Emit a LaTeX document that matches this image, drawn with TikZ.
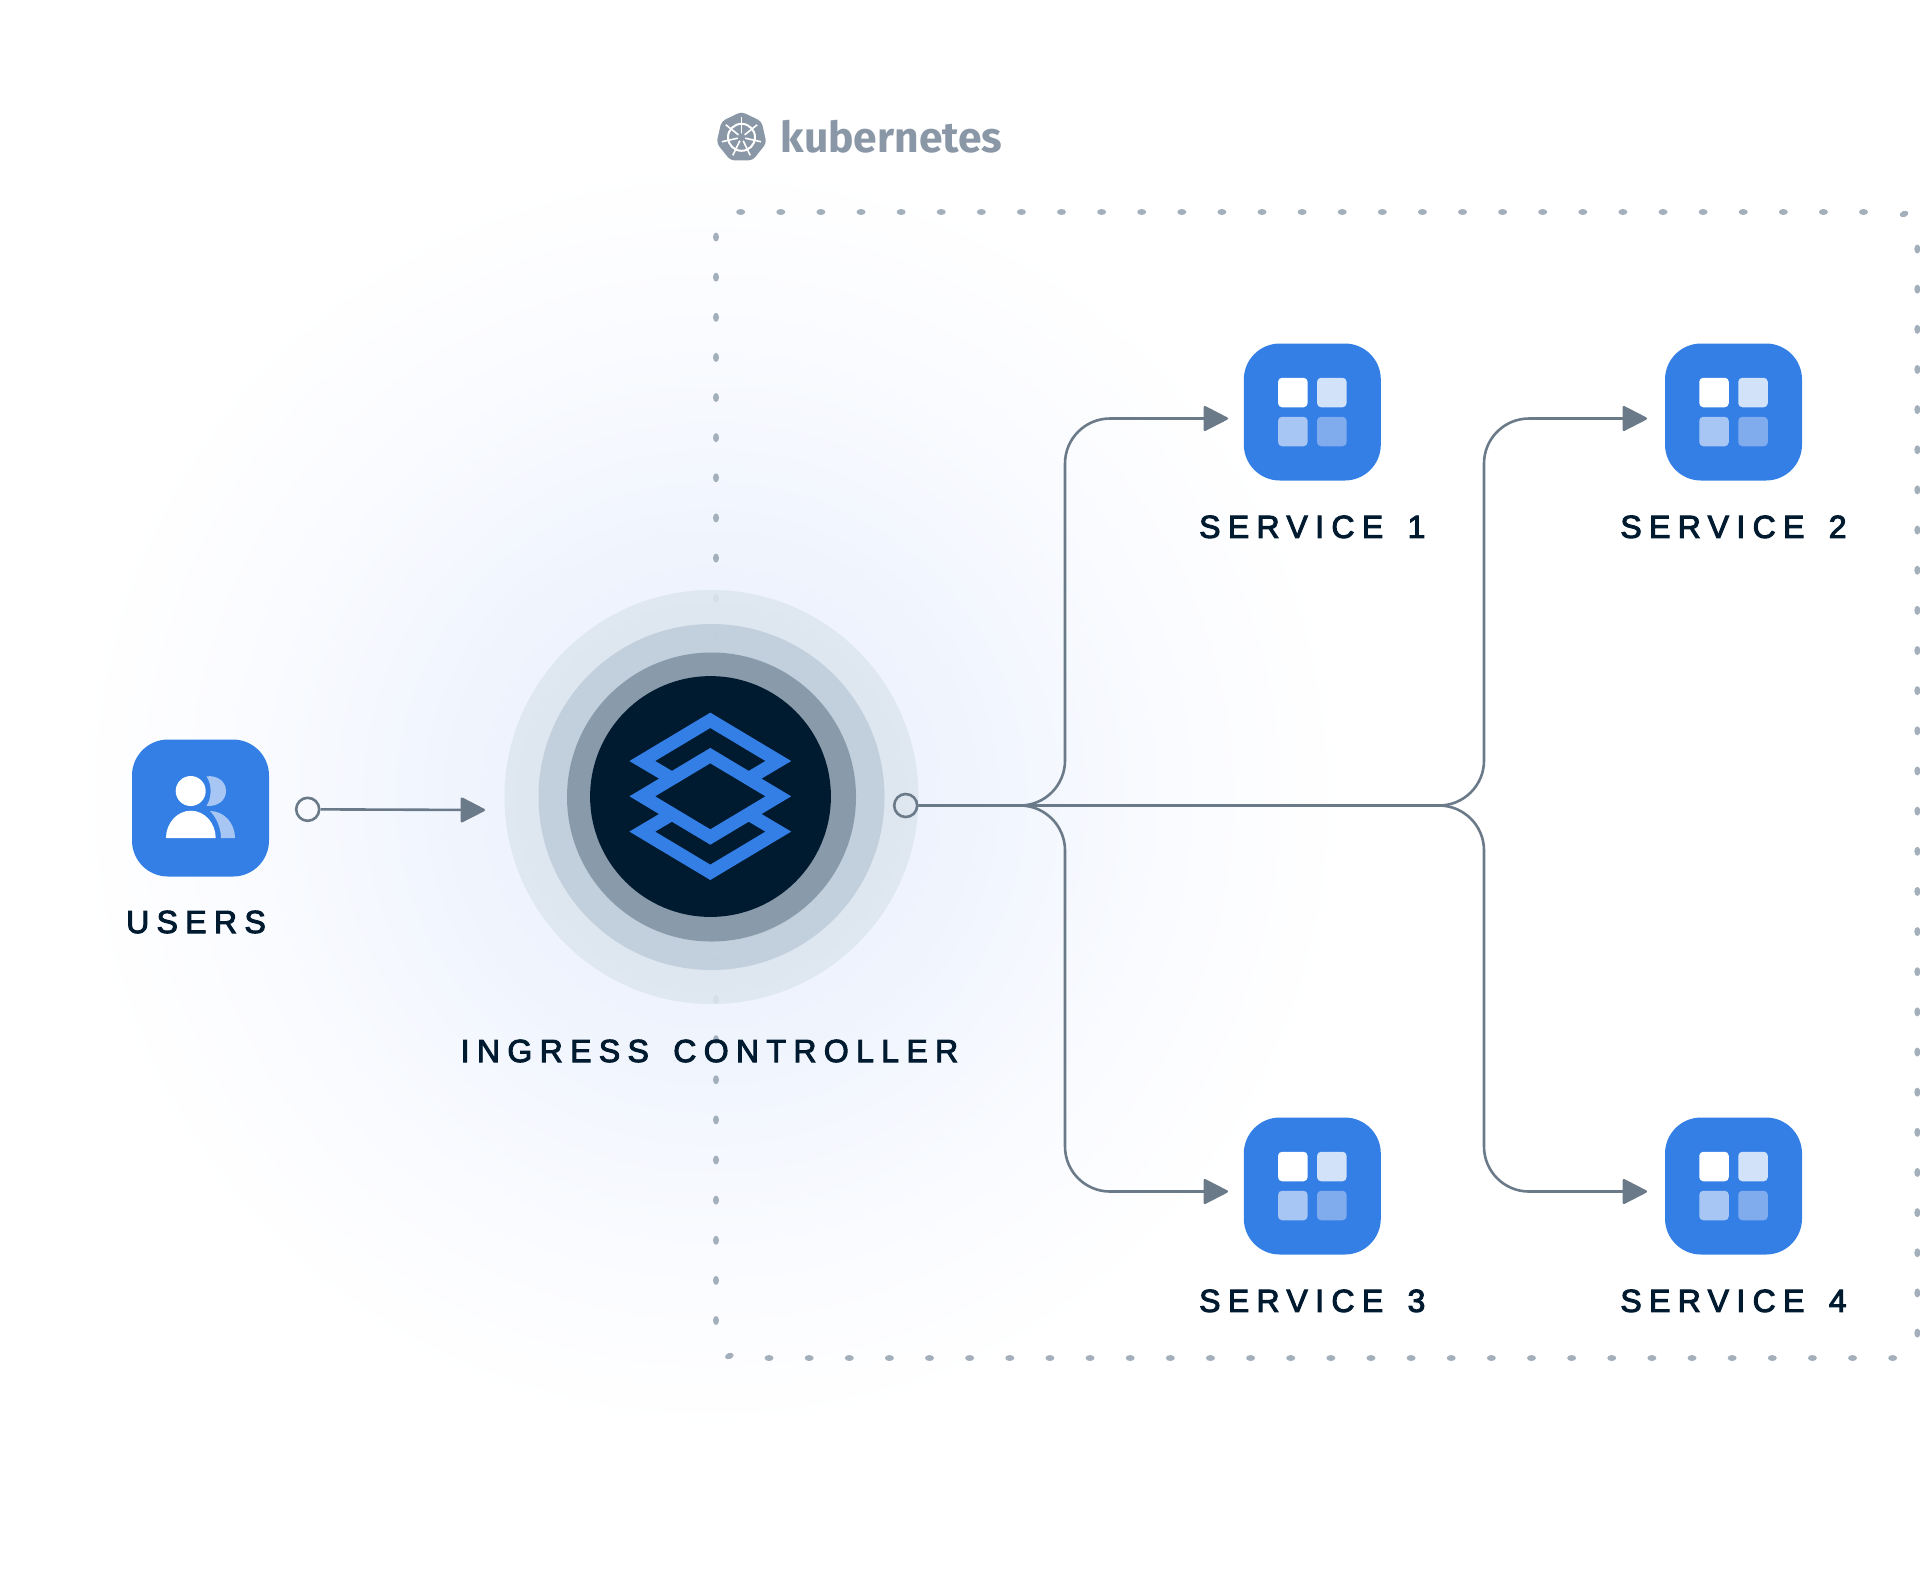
\documentclass[tikz,border=0pt]{standalone}
\usepackage{fontspec}
\usetikzlibrary{arrows.meta,positioning,shapes.geometric}
\definecolor{boxblue}{HTML}{347FE6}
\definecolor{nightblue}{HTML}{001A30}
\definecolor{wiregray}{HTML}{6B7A89}
\definecolor{dotgray}{HTML}{A3AFBB}
\definecolor{logogray}{HTML}{8A97A6}
\definecolor{ringa}{HTML}{DDE6EF}
\definecolor{ringb}{HTML}{BFCCDA}
\definecolor{ringc}{HTML}{8294A4}
\definecolor{glowa}{HTML}{E9F0FC}
\definecolor{glowb}{HTML}{EEF3FD}
\definecolor{glowc}{HTML}{F5F8FE}
\definecolor{glowd}{HTML}{FBFCFF}
\definecolor{tilea}{HTML}{D2E2F9}
\definecolor{tileb}{HTML}{A8C6F3}
\definecolor{tilec}{HTML}{80ACEE}
\newfontfamily\labelfont[LetterSpace=23,WordSpace=1.5,FakeBold=3]{Liberation Sans}
\newfontfamily\logofont{Fira Sans}
\pgfdeclareradialshading{glow}{\pgfpoint{0bp}{0bp}}{color(0bp)=(glowa); color(8.5bp)=(glowb); color(14bp)=(glowc); color(19.5bp)=(glowd); color(25bp)=(white); color(50bp)=(white)}

\begin{document}
\begin{tikzpicture}[x=0.5pt, y=-0.5pt, >={Triangle[length=13pt,width=13pt,round]}]
\tikzstyle{iconbox}=[fill=boxblue,rounded corners=18pt,minimum size=68.5pt,inner sep=0pt]
\tikzstyle{tile}=[rounded corners=2pt,minimum size=14.75pt,inner sep=0pt]
\tikzstyle{caption}=[text=nightblue,inner sep=0pt,text height=11.5pt,text depth=0pt,font=\labelfont\fontsize{16}{16}\selectfont]
\tikzstyle{ring}=[circle,inner sep=0pt,opacity=0.88]
\tikzstyle{port}=[circle,draw=wiregray,line width=1.3pt,minimum size=11.5pt,inner sep=0pt]
\tikzstyle{wire}=[draw=wiregray,line width=1.3pt,rounded corners=22.5pt]
\tikzstyle{stack}=[draw=boxblue,line width=6.6pt,line join=miter]
\tikzstyle{spoke}=[draw=white,line width=0.8pt,shorten >=3pt]
\useasboundingbox (0,0) rectangle (1920,1576);
\shade[shading=glow] (711,797) circle[radius=640];

\foreach \y in {237,277.13,...,1322} \fill[dotgray] (716,\y) ellipse[x radius=3,y radius=4.5];
\foreach \x in {740.7,780.8,...,1866} \fill[dotgray] (\x,212) ellipse[x radius=4.5,y radius=3];
\foreach \y in {249,289.15,...,1335} \fill[dotgray] (1917.3,\y) ellipse[x radius=3,y radius=4.5];
\foreach \x in {769,809.13,...,1894} \fill[dotgray] (\x,1358) ellipse[x radius=4.5,y radius=3];
\fill[dotgray,rotate around={20:(1904,214)}] (1904,214) ellipse[x radius=4.5,y radius=3];
\fill[dotgray,rotate around={20:(729.3,1356)}] (729.3,1356) ellipse[x radius=4.5,y radius=3];

\node[regular polygon,regular polygon sides=7,fill=logogray,rounded corners=2pt,minimum size=25.6pt,inner sep=0pt] (kube) at (741.5,137.3) {};
\foreach \k in {1,...,7} \draw[spoke] (kube.center) -- (kube.corner \k);
\node[circle,draw=white,line width=1pt,minimum size=13.5pt,inner sep=0pt] (wheel) at (kube.center) {};
\node[circle,fill=logogray,minimum size=4pt,inner sep=0pt] (hub) at (kube.center) {};
\node[anchor=base west,inner sep=0pt,text=logogray,font=\logofont\bfseries\fontsize{21.3}{21.3}\selectfont] (kubename) at (780.5,152.5) {kubernetes};

\node[ring,fill=ringa,minimum size=207pt] (ringA) at (711.5,797) {};
\node[ring,fill=ringb,minimum size=173pt] (ringB) at (711.5,797) {};
\node[ring,fill=ringc,minimum size=144.5pt] (ringC) at (711.5,797) {};
\node[circle,fill=nightblue,minimum size=120.4pt,inner sep=0pt] (ingress) at (710.5,796.5) {};
\draw[stack] (672,778.6) -- (642.3,761) -- (710.3,720.3) -- (778.3,761) -- (748.6,778.6);
\draw[stack] (672,814) -- (642.3,831.6) -- (710.3,872.3) -- (778.3,831.6) -- (748.6,814);
\draw[stack] (642.3,796.3) -- (710.3,755.6) -- (778.3,796.3) -- (710.3,837) -- cycle;
\node[caption] (ingresslabel) at (709.5,1050.5) {INGRESS CONTROLLER};

\node[iconbox] (users) at (200.5,808) {};
\node[caption] (userslabel) at (196,921.5) {USERS};
\fill[white] (190.7,791) circle[radius=15];
\fill[white] (166,838) arc[start angle=180,end angle=360,x radius=24.85,y radius=27.3] -- cycle;
\fill[tileb] (206.5,776.3) .. controls (218,775) and (226,782) .. (226,791) .. controls (226,800) and (218,807) .. (206.5,805.8) .. controls (212,798) and (212,784) .. (206.5,776.3);
\fill[tileb] (210,811) .. controls (224,811) and (235,823) .. (235,838) -- (221,838) .. controls (221,829) and (217,818) .. (210,811);

\node[iconbox] (svcA) at (1312.3,412) {};
\node[iconbox] (svcB) [right of=svcA,node distance=210.6pt] {};
\node[iconbox] (svcC) [below of=svcA,node distance=387pt] {};
\node[iconbox] (svcD) [below of=svcB,node distance=387pt] {};
\foreach \s in {svcA,svcB,svcC,svcD} {
  \node[tile,fill=white] (\s-a) at ([xshift=-9.75pt,yshift=9.75pt]\s.center) {};
  \node[tile,fill=tilea] (\s-b) at ([xshift=9.75pt,yshift=9.75pt]\s.center) {};
  \node[tile,fill=tileb] (\s-c) at ([xshift=-9.75pt,yshift=-9.75pt]\s.center) {};
  \node[tile,fill=tilec] (\s-d) at ([xshift=9.75pt,yshift=-9.75pt]\s.center) {};
}
\node[caption] (svcAlabel) [below of=svcA,node distance=57.2pt] {SERVICE 1};
\node[caption] (svcBlabel) [below of=svcB,node distance=57.2pt] {SERVICE 2};
\node[caption] (svcClabel) [below of=svcC,node distance=57.2pt] {SERVICE 3};
\node[caption] (svcDlabel) [below of=svcD,node distance=57.2pt] {SERVICE 4};

\node[port] (inport) at (307.7,809.3) {};
\node[port] (outport) at (905.7,805.5) {};
\coordinate (inend) at (485,810);
\coordinate (busA) at (1065,805.5);
\coordinate (busB) at (1484,805.5);
\coordinate (tipA) at (1228,418.5);
\coordinate (tipB) at (1647,418.5);
\coordinate (tipC) at (1228,1191.5);
\coordinate (tipD) at (1647,1191.5);
\draw[wire,->] (inport) -- (inend);
\draw[wire,->] (outport) -- (busA) |- (tipA);
\draw[wire,->] (outport) -- (busA) |- (tipC);
\draw[wire,->] (outport) -- (busB) |- (tipB);
\draw[wire,->] (outport) -- (busB) |- (tipD);
\end{tikzpicture}
\end{document}
